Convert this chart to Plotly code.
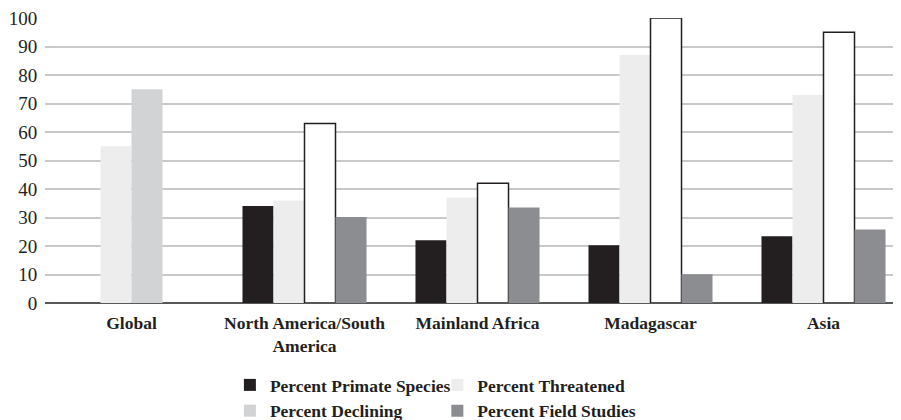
import plotly.graph_objects as go

categories = ["Global", "North America/South<br>America", "Mainland Africa", "Madagascar", "Asia"]
primate_species = [None, 34, 22, 20.3, 23.4]
threatened = [55, 36, 37, 87, 73]
declining = [75, 63, 42, 100, 95]
field_studies = [None, 30.2, 33.5, 10.1, 25.8]
y_ticks = list(range(0, 101, 10))

DARK = "#231f20"
FONT = "Liberation Serif, Times New Roman, serif"

declining_fill = ["#d1d3d4", "#ffffff", "#ffffff", "#ffffff", "#ffffff"]
declining_line_w = [0, 1.5, 1.5, 1.5, 1.5]

fig = go.Figure()
fig.add_trace(go.Bar(x=categories, y=primate_species, name="Percent Primate Species",
                     marker=dict(color=DARK, line=dict(width=0)),
                     legend="legend", legendgroup="a"))
fig.add_trace(go.Bar(x=categories, y=threatened, name="Percent Threatened",
                     marker=dict(color="#ededed", line=dict(width=0)),
                     legend="legend2", legendgroup="b"))
fig.add_trace(go.Bar(x=categories, y=declining, name="Percent Declining",
                     marker=dict(color=declining_fill,
                                 line=dict(color=DARK, width=declining_line_w)),
                     legend="legend", legendgroup="c"))
fig.add_trace(go.Bar(x=categories, y=field_studies, name="Percent Field Studies",
                     marker=dict(color="#8c8d90", line=dict(width=0)),
                     legend="legend2", legendgroup="d"))

legend_common = dict(orientation="v", xanchor="left", yanchor="top",
                     xref="container", yref="container",
                     bgcolor="rgba(0,0,0,0)", tracegroupgap=0,
                     font=dict(family=FONT, size=17.5, color=DARK, weight="bold"),
                     itemclick=False, itemdoubleclick=False)

# the page adds an 8px body margin; the plot area runs past the right edge like the reference
fig.update_layout(
    width=902, height=412,
    margin=dict(l=37, r=0, t=10, b=117, autoexpand=False),
    paper_bgcolor="white", plot_bgcolor="white",
    barmode="group", bargap=0.283, bargroupgap=0,
    font=dict(family=FONT, color=DARK),
    showlegend=True,
    legend=dict(x=0.246, y=0.1286, **legend_common),
    legend2=dict(x=0.476, y=0.1286, **legend_common),
    xaxis=dict(tickfont=dict(family=FONT, size=17.5, color=DARK, weight="bold"),
               showgrid=False, ticks="outside", ticklen=4, tickcolor="rgba(0,0,0,0)",
               showline=False, fixedrange=True, automargin=False),
    yaxis=dict(range=[0, 100], tickvals=y_ticks, showgrid=True, gridcolor="#c9c9c9",
               gridwidth=1.5, zeroline=True, zerolinecolor="#58595b", zerolinewidth=2,
               ticks="outside", ticklen=3, tickcolor="rgba(0,0,0,0)",
               tickfont=dict(family=FONT, size=19, color=DARK),
               ticklabeloverflow="allow",
               showline=False, fixedrange=True, automargin=False),
)

fig.write_html("out.html")
